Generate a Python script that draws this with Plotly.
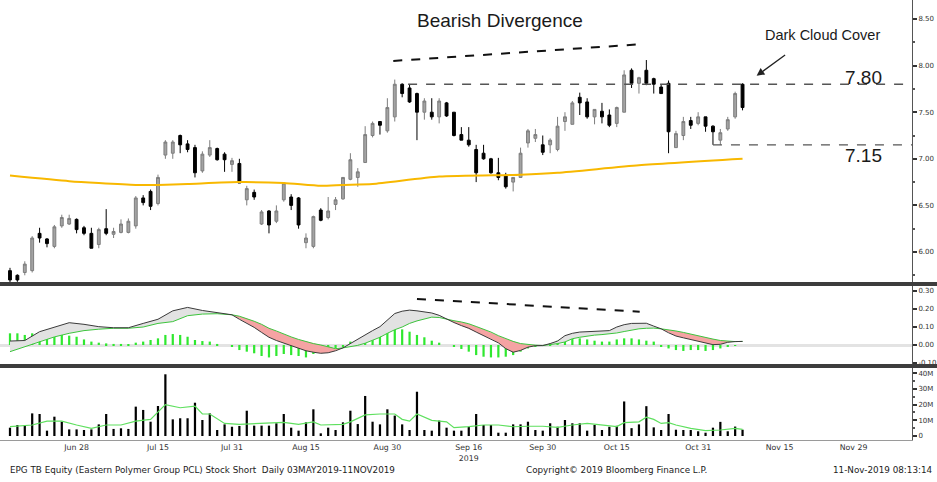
import math
import pandas as pd
import plotly.graph_objects as go

# ---------------- data ----------------
holidays = ["2019-07-16", "2019-07-29", "2019-08-12", "2019-10-14", "2019-10-23"]
all_days = [d for d in pd.bdate_range("2019-06-17", "2019-12-31") if d.strftime("%Y-%m-%d") not in holidays]
dates = all_days[:100]

open_ = [5.80, 5.75, 5.78, 5.80, 6.20, 6.14, 6.06, 6.28, 6.30, 6.35,
         6.26, 6.20, 6.08, 6.25, 6.19, 6.21, 6.21, 6.28, 6.58, 6.65,
         6.52, 7.04, 7.06, 7.25, 7.16, 7.12, 6.87, 7.04, 7.11, 7.05,
         6.94, 6.95, 6.56, 6.64, 6.30, 6.44, 6.33, 6.56, 6.59, 6.58,
         6.10, 6.06, 6.45, 6.37, 6.51, 6.57, 6.78, 6.80, 6.96, 7.25,
         7.40, 7.30, 7.45, 7.80, 7.76, 7.70, 7.50, 7.50, 7.45, 7.60,
         7.50, 7.26, 7.20, 7.10, 7.06, 7.00, 6.85, 6.82, 6.75, 6.80,
         7.17, 7.22, 7.15, 7.15, 7.10, 7.40, 7.37, 7.66, 7.61, 7.45,
         7.51, 7.47, 7.38, 7.50, 7.95, 7.81, 7.95, 7.86, 7.77, 7.81,
         7.12, 7.25, 7.41, 7.38, 7.45, 7.35, 7.20, 7.32, 7.45, 7.80]
high = [5.83, 5.76, 5.90, 6.17, 6.26, 6.15, 6.29, 6.40, 6.40, 6.36,
        6.28, 6.26, 6.26, 6.46, 6.26, 6.35, 6.36, 6.60, 6.61, 6.67,
        6.83, 7.20, 7.20, 7.26, 7.20, 7.15, 7.08, 7.20, 7.12, 7.07,
        7.01, 7.00, 6.71, 6.67, 6.45, 6.45, 6.50, 6.75, 6.62, 6.59,
        6.20, 6.39, 6.47, 6.59, 6.59, 6.80, 7.06, 6.90, 7.35, 7.40,
        7.40, 7.65, 7.85, 7.81, 7.80, 7.71, 7.65, 7.65, 7.65, 7.61,
        7.50, 7.34, 7.34, 7.15, 7.15, 7.01, 7.01, 6.85, 6.80, 7.12,
        7.32, 7.32, 7.25, 7.22, 7.45, 7.50, 7.62, 7.71, 7.65, 7.53,
        7.60, 7.53, 7.56, 7.95, 7.97, 7.88, 8.06, 7.87, 7.80, 7.84,
        7.30, 7.45, 7.45, 7.50, 7.45, 7.36, 7.32, 7.45, 7.72, 7.81]
low = [5.62, 5.68, 5.75, 5.78, 6.10, 6.05, 6.04, 6.26, 6.29, 6.20,
       6.18, 6.04, 6.04, 6.18, 6.15, 6.20, 6.20, 6.25, 6.50, 6.45,
       6.50, 7.00, 7.00, 7.06, 7.07, 6.80, 6.85, 7.02, 6.98, 6.86,
       6.86, 6.74, 6.50, 6.56, 6.29, 6.20, 6.31, 6.54, 6.45, 6.25,
       6.04, 6.04, 6.33, 6.35, 6.45, 6.56, 6.77, 6.70, 6.96, 7.23,
       7.26, 7.28, 7.40, 7.66, 7.60, 7.20, 7.42, 7.42, 7.38, 7.45,
       7.24, 7.20, 7.13, 6.75, 6.99, 6.84, 6.77, 6.68, 6.65, 6.80,
       7.12, 7.18, 7.04, 7.06, 7.08, 7.30, 7.37, 7.47, 7.43, 7.37,
       7.38, 7.34, 7.34, 7.50, 7.76, 7.70, 7.79, 7.70, 7.70, 7.06,
       7.12, 7.20, 7.32, 7.36, 7.29, 7.15, 7.15, 7.30, 7.43, 7.52]
close = [5.70, 5.70, 5.87, 6.15, 6.15, 6.09, 6.27, 6.37, 6.36, 6.24,
         6.20, 6.04, 6.24, 6.20, 6.22, 6.30, 6.33, 6.58, 6.53, 6.49,
         6.80, 7.18, 7.18, 7.15, 7.10, 6.85, 7.05, 7.12, 6.99, 6.99,
         6.98, 6.74, 6.68, 6.59, 6.43, 6.29, 6.44, 6.74, 6.50, 6.29,
         6.15, 6.38, 6.34, 6.44, 6.56, 6.80, 6.99, 6.86, 7.26, 7.38,
         7.36, 7.55, 7.80, 7.70, 7.61, 7.50, 7.62, 7.45, 7.62, 7.46,
         7.25, 7.20, 7.15, 6.85, 7.00, 6.85, 6.80, 6.70, 6.80, 7.06,
         7.30, 7.26, 7.07, 7.20, 7.35, 7.45, 7.60, 7.60, 7.45, 7.53,
         7.45, 7.36, 7.55, 7.90, 7.81, 7.87, 7.81, 7.80, 7.70, 7.29,
         7.27, 7.40, 7.36, 7.45, 7.35, 7.29, 7.28, 7.42, 7.70, 7.55]

ma_idx = [0, 8, 12, 17, 20, 24, 31, 37, 42, 45, 49, 58, 69, 74, 85, 99]
ma_val = [6.82, 6.76, 6.74, 6.72, 6.72, 6.73, 6.75, 6.74, 6.71, 6.72, 6.73, 6.81, 6.83, 6.85, 6.93, 7.00]

macd_idx = [0, 2, 4, 6, 8, 10, 12, 14, 16, 18, 20, 22, 24, 26, 28, 30, 31, 32, 33, 34,
            35, 36, 37, 38, 39, 40, 41, 42, 43, 44, 45, 46, 47, 48, 49, 50, 51, 52, 53, 54,
            55, 56, 57, 58, 59, 60, 61, 62, 63, 64, 65, 66, 67, 68, 69, 70, 71, 72, 73, 74,
            75, 76, 77, 78, 79, 80, 81, 82, 83, 84, 85, 86, 87, 88, 89, 90, 91, 92, 93, 94,
            95, 96, 97, 98, 99]
macd_val = [0.022, 0.025, 0.074, 0.100, 0.124, 0.115, 0.102, 0.096, 0.096, 0.120,
            0.143, 0.190, 0.209, 0.192, 0.178, 0.168, 0.143, 0.122, 0.098, 0.070,
            0.043, 0.025, 0.010, -0.005, -0.019, -0.032, -0.040, -0.046, -0.043, -0.032,
            -0.016, 0.009, 0.030, 0.055, 0.080, 0.102, 0.140, 0.175, 0.188, 0.194,
            0.190, 0.182, 0.178, 0.165, 0.143, 0.125, 0.108, 0.093, 0.072, 0.052,
            0.035, 0.012, -0.020, -0.040, -0.030, -0.012, -0.004, -0.003, 0.008, 0.022,
            0.052, 0.065, 0.072, 0.074, 0.074, 0.076, 0.080, 0.100, 0.113, 0.120,
            0.121, 0.121, 0.105, 0.090, 0.068, 0.050, 0.040, 0.031, 0.022, 0.010,
            0.002, 0.004, 0.015, 0.019, 0.020]
signal_val = [-0.037, -0.010, 0.019, 0.045, 0.065, 0.080, 0.088, 0.093, 0.093, 0.100,
              0.120, 0.130, 0.163, 0.172, 0.174, 0.168, 0.160, 0.148, 0.132, 0.115,
              0.093, 0.078, 0.060, 0.045, 0.031, 0.018, 0.008, 0.000, -0.010, -0.020,
              -0.016, -0.010, -0.002, 0.010, 0.025, 0.043, 0.065, 0.085, 0.100, 0.120,
              0.134, 0.145, 0.155, 0.153, 0.143, 0.135, 0.128, 0.118, 0.103, 0.088,
              0.072, 0.052, 0.035, 0.020, 0.008, 0.002, -0.001, -0.003, 0.002, 0.008,
              0.017, 0.035, 0.043, 0.050, 0.055, 0.058, 0.062, 0.067, 0.075, 0.083,
              0.090, 0.093, 0.094, 0.090, 0.086, 0.078, 0.070, 0.060, 0.050, 0.043,
              0.033, 0.025, 0.020, 0.019, 0.020]

hist = [0.065, 0.065, 0.056, 0.065, 0.065, 0.065, 0.061, 0.056, 0.052, 0.046,
        0.031, 0.019, 0.013, 0.009, 0.006, 0.006, 0.004, 0.013, 0.019, 0.028,
        0.037, 0.056, 0.061, 0.056, 0.046, 0.028, 0.022, 0.019, 0.006, 0.000,
        -0.009, -0.028, -0.037, -0.046, -0.061, -0.069, -0.061, -0.050, -0.056, -0.061,
        -0.069, -0.050, -0.037, -0.028, -0.019, -0.009, 0.019, 0.028, 0.037, 0.050,
        0.061, 0.074, 0.090, 0.087, 0.074, 0.056, 0.043, 0.024, 0.013, 0.000,
        -0.009, -0.022, -0.037, -0.056, -0.065, -0.069, -0.069, -0.065, -0.056, -0.037,
        -0.019, -0.006, 0.000, 0.009, 0.024, 0.037, 0.037, 0.037, 0.031, 0.024,
        0.019, 0.019, 0.031, 0.037, 0.037, 0.031, 0.024, 0.019, -0.009, -0.019,
        -0.028, -0.033, -0.028, -0.028, -0.033, -0.028, -0.019, -0.009, -0.005, 0.000]

volume_m = [5.3, 7.0, 7.0, 14.4, 14.0, 3.4, 12.3, 9.1, 4.2, 4.2,
            3.8, 4.2, 7.4, 14.0, 4.5, 4.9, 4.5, 18.7, 16.6, 9.1,
            19.1, 39.3, 10.6, 11.3, 11.3, 21.2, 10.2, 14.4, 3.8, 7.4,
            5.9, 6.4, 16.1, 6.6, 6.6, 6.6, 8.1, 14.0, 5.3, 3.4,
            8.7, 17.0, 1.7, 5.3, 3.8, 8.7, 16.1, 7.6, 25.5, 9.1,
            7.4, 17.0, 13.0, 7.4, 3.8, 28.2, 3.8, 3.4, 9.8, 5.3,
            3.4, 3.4, 5.9, 14.0, 7.0, 7.0, 2.1, 2.1, 7.4, 7.4,
            9.1, 3.8, 3.4, 8.1, 5.9, 10.2, 8.1, 8.1, 3.4, 7.0,
            3.8, 5.9, 6.5, 22.0, 5.0, 7.4, 19.0, 5.5, 3.8, 14.0,
            4.0, 3.8, 3.8, 3.0, 2.1, 5.3, 9.0, 3.0, 6.0, 4.0]

vma_idx = [0, 3, 5, 7, 9, 11, 13, 15, 17, 19, 21, 23, 25, 26, 27, 29, 31, 35, 37, 39,
           41, 42, 45, 46, 48, 50, 52, 53, 54, 55, 57, 59, 60, 62, 64, 66, 68, 70, 72, 74,
           76, 78, 80, 82, 83, 85, 86, 87, 88, 89, 90, 92, 94, 96, 98, 99]
vma_val = [6.0, 7.0, 9.5, 9.5, 7.0, 4.9, 7.0, 7.0, 9.5, 10.6, 20.0, 18.0, 19.0, 14.0, 14.0,
           8.0, 7.4, 8.5, 8.7, 7.4, 9.0, 7.0, 7.4, 9.0, 13.4, 14.0, 14.0, 10.6, 9.5, 14.0,
           10.0, 9.0, 5.3, 6.0, 7.0, 7.0, 5.9, 6.2, 6.2, 5.5, 7.0, 8.0, 7.0, 6.0, 8.5, 9.0,
           12.0, 10.6, 8.0, 8.5, 7.0, 4.9, 3.4, 3.8, 4.9, 4.2]

tick_dates = ["2019-06-28", "2019-07-15", "2019-07-31", "2019-08-15", "2019-08-30", "2019-09-16",
              "2019-09-30", "2019-10-15", "2019-10-31", "2019-11-15", "2019-11-29"]
tick_text = ["Jun 28", "Jul 15", "Jul 31", "Aug 15", "Aug 30", "Sep 16<br>2019",
             "Sep 30", "Oct 15", "Oct 31", "Nov 15", "Nov 29"]


def at(i):
    """fractional trading-day index -> timestamp string"""
    k = int(math.floor(i))
    t = all_days[k] + pd.Timedelta(days=(i - k))
    return t.strftime("%Y-%m-%d %H:%M")


DAY = 86400000
X_RANGE = ["2019-06-13 15:36", at(121.9)]

fig = go.Figure()

# ---- price panel ----
fig.add_trace(go.Scatter(x=[dates[i] for i in ma_idx], y=ma_val, mode="lines",
                         line=dict(color="#f8b800", width=2, shape="spline", smoothing=0.6),
                         xaxis="x", yaxis="y", hoverinfo="skip", showlegend=False))
fig.add_trace(go.Candlestick(x=dates, open=open_, high=high, low=low, close=close,
                             increasing=dict(line=dict(color="#7d7d7d", width=1), fillcolor="#a3a3a3"),
                             decreasing=dict(line=dict(color="#000000", width=1), fillcolor="#000000"),
                             whiskerwidth=0, xaxis="x", yaxis="y", showlegend=False))

# ---- MACD panel ----
mx = [dates[i] for i in macd_idx]
segs = []
cur = [0]
for k in range(1, len(macd_idx)):
    cur.append(k)
    if abs(macd_val[k] - signal_val[k]) < 1e-9 or k == len(macd_idx) - 1:
        segs.append(cur)
        cur = [k]
for seg in segs:
    diff = sum(macd_val[k] - signal_val[k] for k in seg)
    col = "#e2e2e2" if diff >= 0 else "#f5a3a3"
    xs = [mx[k] for k in seg] + [mx[k] for k in reversed(seg)]
    ys = [macd_val[k] for k in seg] + [signal_val[k] for k in reversed(seg)]
    fig.add_trace(go.Scatter(x=xs, y=ys, fill="toself", fillcolor=col, mode="lines",
                             line=dict(width=0), xaxis="x", yaxis="y2",
                             hoverinfo="skip", showlegend=False))

fig.add_trace(go.Bar(x=dates, y=hist, width=0.3 * DAY, marker=dict(color="#2fe82f", line=dict(width=0)),
                     xaxis="x", yaxis="y2", showlegend=False))
fig.add_trace(go.Scatter(x=mx, y=signal_val, mode="lines", line=dict(color="#3dc43d", width=1),
                         xaxis="x", yaxis="y2", hoverinfo="skip", showlegend=False))
fig.add_trace(go.Scatter(x=mx, y=macd_val, mode="lines", line=dict(color="#3a3a3a", width=1),
                         xaxis="x", yaxis="y2", hoverinfo="skip", showlegend=False))

# ---- volume panel ----
fig.add_trace(go.Bar(x=dates, y=volume_m, width=0.3 * DAY, marker=dict(color="#000000", line=dict(width=0)),
                     xaxis="x", yaxis="y3", showlegend=False))
fig.add_trace(go.Scatter(x=[dates[i] for i in vma_idx], y=vma_val, mode="lines",
                         line=dict(color="#5fe05f", width=1.2),
                         xaxis="x", yaxis="y3", hoverinfo="skip", showlegend=False))

tickfont = dict(family="DejaVu Sans", size=7, color="#333333")
yax_common = dict(side="right", anchor="x", showgrid=False, showline=True, linecolor="#555555",
                  linewidth=1, ticks="outside", ticklen=4, tickwidth=2, tickcolor="#333333",
                  tickfont=tickfont, fixedrange=True, automargin=False)

price_ticks = [6.0, 6.5, 7.0, 7.5, 8.0, 8.5]
macd_ticks = [-0.1, 0.0, 0.1, 0.2, 0.3]
vol_ticks = [0, 10, 20, 30, 40]

fig.update_layout(
    width=937, height=482,
    margin=dict(l=0, r=25, t=0, b=42),
    paper_bgcolor="white", plot_bgcolor="white",
    showlegend=False, boxgap=0.45,
    xaxis=dict(domain=[0, 1], anchor="y3", type="date", range=X_RANGE,
               rangebreaks=[dict(bounds=["sat", "mon"]), dict(values=holidays)],
               tickvals=tick_dates, ticktext=tick_text, showgrid=False,
               showline=True, linecolor="#9a9a9a", ticks="",
               tickfont=dict(family="DejaVu Sans", size=7.8, color="#333333"),
               rangeslider=dict(visible=False), fixedrange=True, automargin=False),
    yaxis=dict(domain=[0.3591, 1], range=[5.678, 8.704], tickvals=price_ticks,
               ticktext=["%.2f" % v for v in price_ticks], zeroline=False,
               minor=dict(tickvals=[5.75, 6.25, 6.75, 7.25, 7.75, 8.25], ticks="outside", ticklen=2, tickcolor="#555555"),
               **yax_common),
    yaxis2=dict(domain=[0.1727, 0.35], range=[-0.1056, 0.328], tickvals=macd_ticks,
                ticktext=["%.2f" % v for v in macd_ticks],
                zeroline=True, zerolinecolor="#e3e3e3", zerolinewidth=3, **yax_common),
    yaxis3=dict(domain=[0, 0.1636], range=[-2.55, 43.3], tickvals=vol_ticks,
                ticktext=["0", "10M", "20M", "30M", "40M"], zeroline=False,
                minor=dict(tickvals=[5, 15, 25, 35], ticks="outside", ticklen=2, tickcolor="#555555"),
                **yax_common),
)

shapes = [
    # panel separators
    dict(type="rect", xref="paper", yref="paper", x0=0, x1=1.03, y0=0.350, y1=0.3591,
         fillcolor="#3d3d3d", line=dict(width=0), layer="above"),
    dict(type="rect", xref="paper", yref="paper", x0=0, x1=1.03, y0=0.1636, y1=0.1727,
         fillcolor="#3d3d3d", line=dict(width=0), layer="above"),
    # bearish divergence trend line on price
    dict(type="line", xref="x", yref="y", x0=at(51.8), y0=8.05, x1=at(85.4), y1=8.23,
         line=dict(color="#111111", width=2, dash="dash")),
    # resistance 7.80
    dict(type="line", xref="x", yref="y", x0=at(53.8), y0=7.80, x1=X_RANGE[1], y1=7.80,
         line=dict(color="#555555", width=1.3, dash="dash")),
    # support 7.15
    dict(type="line", xref="x", yref="y", x0=at(95), y0=7.15, x1=X_RANGE[1], y1=7.15,
         line=dict(color="#555555", width=1.3, dash="dash")),
    # divergence line on MACD
    dict(type="line", xref="x", yref="y2", x0=at(55), y0=0.256, x1=at(85.1), y1=0.185,
         line=dict(color="#111111", width=2, dash="dash")),
]
fig.update_layout(shapes=shapes)

ann_font = dict(family="Liberation Sans", color="#1a1a1a")
footer_font = dict(family="DejaVu Sans", size=8.8, color="#222222")
annotations = [
    dict(text="Bearish Divergence", xref="paper", yref="paper", x=0.5482, y=0.9523,
         xanchor="center", yanchor="middle", showarrow=False, font=dict(size=19, **ann_font)),
    dict(text="Dark Cloud Cover", xref="paper", yref="paper", x=0.9024, y=0.9205,
         xanchor="center", yanchor="middle", showarrow=False, font=dict(size=14.5, **ann_font)),
    dict(text="7.80", xref="paper", yref="paper", x=0.9463, y=0.825,
         xanchor="center", yanchor="middle", showarrow=False, font=dict(size=19, **ann_font)),
    dict(text="7.15", xref="paper", yref="paper", x=0.9463, y=0.6455,
         xanchor="center", yanchor="middle", showarrow=False, font=dict(size=19, **ann_font)),
    dict(text="", xref="x", yref="y", x=at(100.9), y=7.89, ax=30, ay=-22,
         showarrow=True, arrowhead=2, arrowsize=1.2, arrowwidth=1.3, arrowcolor="#222222"),
    dict(text="EPG TB Equity (Eastern Polymer Group PCL) Stock Short  Daily 03MAY2019-11NOV2019",
         xref="paper", yref="paper", x=0.0088, y=-0.068, xanchor="left", yanchor="middle",
         showarrow=False, font=footer_font),
    dict(text="Copyright\u00a9 2019 Bloomberg Finance L.P.", xref="paper", yref="paper",
         x=0.6765, y=-0.068, xanchor="center", yanchor="middle", showarrow=False, font=footer_font),
    dict(text="11-Nov-2019 08:13:14", xref="paper", yref="paper", x=1.0255, y=-0.068,
         xanchor="right", yanchor="middle", showarrow=False, font=footer_font),
]
fig.update_layout(annotations=annotations)

fig.write_html("out.html")
